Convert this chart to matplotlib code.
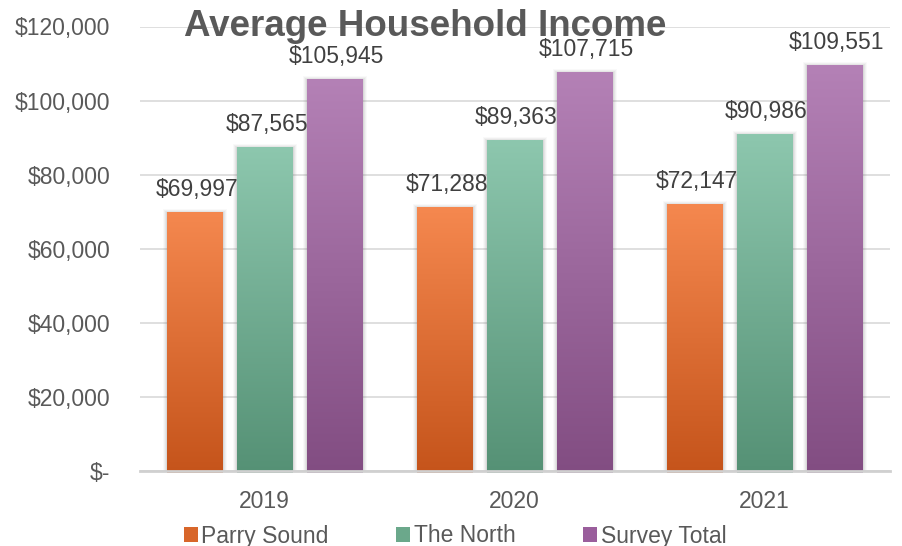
import numpy as np
import matplotlib
matplotlib.use('Agg')
import matplotlib.pyplot as plt
from matplotlib.patches import Rectangle, Patch
from matplotlib.colors import LinearSegmentedColormap
from matplotlib.ticker import FuncFormatter

years = ['2019', '2020', '2021']
series_names = ['Parry Sound', 'The North', 'Survey Total']
parry_sound = [69997, 71288, 72147]
the_north = [87565, 89363, 90986]
survey_total = [105945, 107715, 109551]

# (top colour, bottom colour) for each series gradient
grad_colors = [('#f5884f', '#c5541b'),
               ('#8dc7ae', '#559175'),
               ('#b481b6', '#824d82')]
legend_colors = ['#d8662a', '#6ba88b', '#9a5e9c']

plt.rcParams['font.family'] = ['Liberation Sans', 'DejaVu Sans']
text_col = '#595959'
fs = 16.5

fig = plt.figure(figsize=(9.02, 5.46), dpi=100)
ax = fig.add_axes([139.5 / 902, 1 - 470.6 / 546, 750 / 902, 444.1 / 546])

x = np.arange(len(years))
width = 0.224
step = 0.28
px_x = 1 / 250.0
px_y = 120000 / 444.1

grad = np.linspace(0, 1, 256).reshape(-1, 1)

for i, vals in enumerate([parry_sound, the_north, survey_total]):
    top_c, bot_c = grad_colors[i]
    cmap = LinearSegmentedColormap.from_list('g%d' % i, [bot_c, top_c])
    bars = ax.bar(x + (i - 1) * step, vals, width, color='none', zorder=3)
    for b, v in zip(bars, vals):
        x0, w, h = b.get_x(), b.get_width(), b.get_height()
        # soft shadow around the bar
        for k, a in zip([4, 3, 2, 1], [0.04, 0.06, 0.08, 0.11]):
            ax.add_patch(Rectangle((x0 - k * px_x, -2 * px_y), w + 2 * k * px_x,
                                   h + (k + 1) * px_y, facecolor='#6f6f6f',
                                   edgecolor='none', alpha=a, zorder=2))
        im = ax.imshow(grad, extent=[x0, x0 + w, -2 * px_y, h], origin='lower',
                       cmap=cmap, aspect='auto', zorder=3, interpolation='bilinear')
        im.set_clip_path(Rectangle((x0, -2 * px_y), w, h + 2 * px_y,
                                   transform=ax.transData))
        ax.annotate('${:,}'.format(v), (x0 + w / 2, h), xytext=(1.5, 11.5),
                    textcoords='offset points', ha='center', va='baseline',
                    fontsize=fs, color='#404040', zorder=5)

ax.set_xlim(-0.5, 2.5)
ax.set_ylim(0, 120000)
ax.set_yticks(np.arange(0, 120001, 20000))
ax.yaxis.set_major_formatter(FuncFormatter(
    lambda v, p: '$-' if v == 0 else '${:,.0f}'.format(v)))
ax.set_xticks(x)
ax.set_xticklabels(years)
ax.tick_params(axis='both', length=0, labelsize=fs, labelcolor=text_col)
ax.tick_params(axis='y', pad=21)
ax.tick_params(axis='x', pad=14)
ax.grid(axis='y', color='#d9d9d9', linewidth=1.2, zorder=0)
ax.set_axisbelow(True)
for s in ['top', 'right', 'left']:
    ax.spines[s].set_visible(False)
ax.spines['bottom'].set_color('#d0d0d0')
ax.spines['bottom'].set_linewidth(2)
ax.spines['bottom'].set_zorder(4)

fig.text(425.5 / 902, 1 - 36 / 546, 'Average Household Income', ha='center',
         va='baseline', fontsize=26.5, fontweight='bold', color=text_col, zorder=6)

handles = [Patch(facecolor=c, edgecolor='none') for c in legend_colors]
fig.legend(handles, series_names, loc='center', ncol=3,
           bbox_to_anchor=(455 / 902, 1 - 536 / 546), frameon=False,
           fontsize=fs, labelcolor=text_col, handlelength=0.62, handleheight=0.62,
           handletextpad=0.15, columnspacing=2.95, borderpad=0, borderaxespad=0)

fig.savefig('out.png', dpi=100, facecolor='white')
